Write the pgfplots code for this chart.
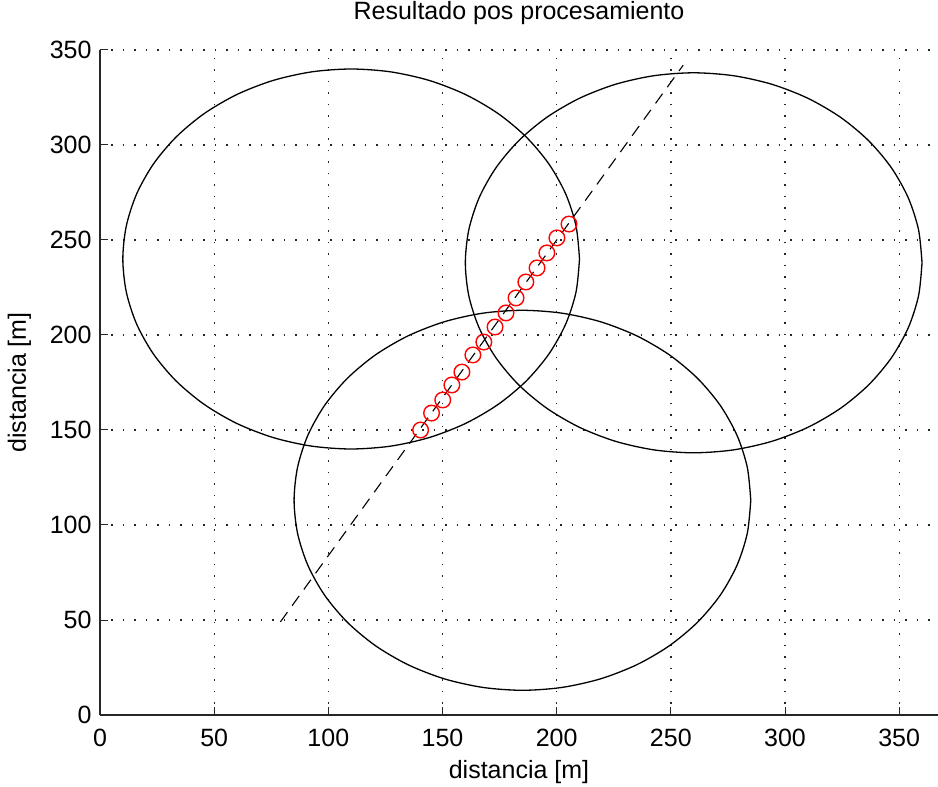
\documentclass[border=0pt]{standalone}
\usepackage{pgfplots}
\pgfplotsset{compat=1.18}
\usepackage{fontspec}
\setmainfont{Liberation Sans}
\begin{document}
\fontsize{25bp}{30bp}\selectfont
\begin{tikzpicture}
\begin{axis}[
  name=ax,
  scale only axis, width=838bp, height=665bp,
  xmin=0, xmax=367, ymin=0, ymax=350,
  axis x line=bottom, axis y line=left,
  axis line style={-, line width=1.3bp, black!85},
  xtick={0,50,...,350}, ytick={0,50,...,350},
  tick align=inside, major tick length=8bp,
  tick style={black!85, line width=1bp},
  grid=major,
  grid style={black!85, line width=1.3bp, dash pattern=on 1.5bp off 10bp},
  /pgf/number format/assume math mode=true,
  every tick label/.append style={font=\fontsize{25bp}{30bp}\selectfont},
  xticklabel style={yshift=-6bp},
  title={Resultado pos procesamiento},
  title style={at={(axis description cs:0.5,1.0376)}, anchor=base, font=\fontsize{25bp}{30bp}\selectfont},
  xlabel={distancia [m]},
  xlabel style={at={(axis description cs:0.5,-0.0962)}, anchor=base, font=\fontsize{25bp}{30bp}\selectfont},
  ylabel={distancia [m]},
  ylabel style={at={(axis description cs:-0.0883,0.5)}, anchor=base, rotate=0, font=\fontsize{25bp}{30bp}\selectfont},
]
% circle 1, centre (110,240), r = 100
\addplot[black, line width=1.3bp, smooth] coordinates {
(210,240)(208.48,257.36)(203.97,274.20)(196.60,290.00)(186.60,304.28)(174.28,316.60)(160,326.60)(144.20,333.97)(127.36,338.48)(110,340)(92.64,338.48)(75.80,333.97)(60,326.60)(45.72,316.60)(33.40,304.28)(23.40,290)(16.03,274.20)(11.52,257.36)(10,240)(11.52,222.64)(16.03,205.80)(23.40,190)(33.40,175.72)(45.72,163.40)(60,153.40)(75.80,146.03)(92.64,141.52)(110,140)(127.36,141.52)(144.20,146.03)(160,153.40)(174.28,163.40)(186.60,175.72)(196.60,190)(203.97,205.80)(208.48,222.64)(210,240)};
% circle 2, centre (260,238), r = 100
\addplot[black, line width=1.3bp, smooth] coordinates {
(360,238)(358.48,255.36)(353.97,272.20)(346.60,288)(336.60,302.28)(324.28,314.60)(310,324.60)(294.20,331.97)(277.36,336.48)(260,338)(242.64,336.48)(225.80,331.97)(210,324.60)(195.72,314.60)(183.40,302.28)(173.40,288)(166.03,272.20)(161.52,255.36)(160,238)(161.52,220.64)(166.03,203.80)(173.40,188)(183.40,173.72)(195.72,161.40)(210,151.40)(225.80,144.03)(242.64,139.52)(260,138)(277.36,139.52)(294.20,144.03)(310,151.40)(324.28,161.40)(336.60,173.72)(346.60,188)(353.97,203.80)(358.48,220.64)(360,238)};
% circle 3, centre (185,113), r = 100
\addplot[black, line width=1.3bp, smooth] coordinates {
(285,113)(283.48,130.36)(278.97,147.20)(271.60,163)(261.60,177.28)(249.28,189.60)(235,199.60)(219.20,206.97)(202.36,211.48)(185,213)(167.64,211.48)(150.80,206.97)(135,199.60)(120.72,189.60)(108.40,177.28)(98.40,163)(91.03,147.20)(86.52,130.36)(85,113)(86.52,95.64)(91.03,78.80)(98.40,63)(108.40,48.72)(120.72,36.40)(135,26.40)(150.80,19.03)(167.64,14.52)(185,13)(202.36,14.52)(219.20,19.03)(235,26.40)(249.28,36.40)(261.60,48.72)(271.60,63)(278.97,78.80)(283.48,95.64)(285,113)};
% dashed trajectory
\addplot[black, line width=1.1bp, dash pattern=on 12bp off 8bp] coordinates {(79,49) (255.4,342)};
% processed positions
\addplot[only marks, mark=o, red, mark size=7.8bp, mark options={line width=1.4bp}] coordinates {
(140.4,150.0)(145.2,158.9)(150.1,165.8)(154.1,173.7)(158.5,180.5)(163.3,189.5)(168.1,196.3)(173.0,204.2)(177.8,211.6)(182.2,219.5)(186.5,227.9)(191.4,235.3)(195.7,243.2)(200.1,251.1)(205.4,258.4)};
\end{axis}
\pgfresetboundingbox
\path[use as bounding box] ([shift={(-100bp,-72bp)}]ax.south west) rectangle ([shift={(838bp,715bp)}]ax.south west);
\end{tikzpicture}
\end{document}
